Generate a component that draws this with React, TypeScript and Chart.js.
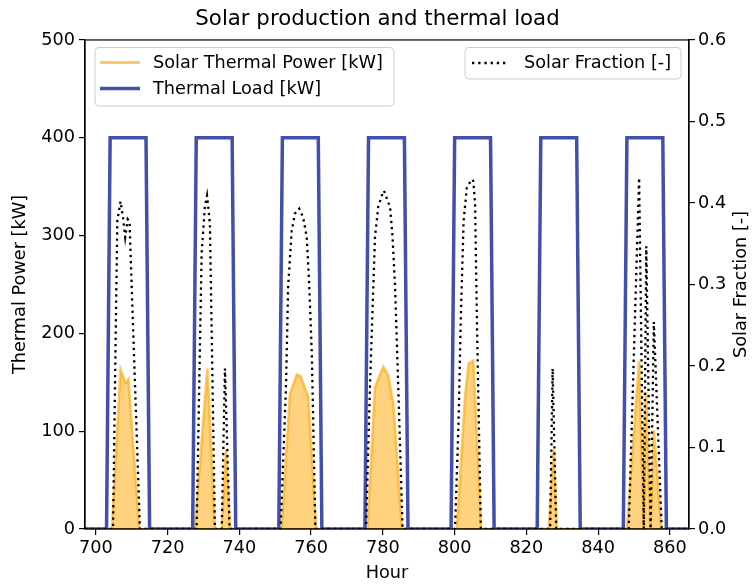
import React, { useEffect, useRef } from 'react';
import { Chart, registerables } from 'chart.js';

Chart.register(...registerables);

// ---- Data ----
const xTicks = [700, 720, 740, 760, 780, 800, 820, 840, 860];
const powerTicks = [0, 100, 200, 300, 400, 500];
const fractionTicks = [0, 0.1, 0.2, 0.3, 0.4, 0.5, 0.6];

const loadHours = [697, 703, 704, 714, 715, 727, 728, 738, 739, 751, 752, 762, 763, 775, 776, 786, 787, 799, 800, 810, 811, 823, 824, 834, 835, 847, 848, 858, 859, 865.3];
const loadKW = [0, 0, 400, 400, 0, 0, 400, 400, 0, 0, 400, 400, 0, 0, 400, 400, 0, 0, 400, 400, 0, 0, 400, 400, 0, 0, 400, 400, 0, 0];

const solarHours = [697, 704.5, 706.9, 708.3, 709.1, 712.1, 727.6, 731.1, 733.2, 735.1, 736.3, 737.4, 751.8, 754.1, 756, 757.1, 759.2, 761.4, 775.7, 777.8, 780.1, 781.5, 782.9, 785.3, 800.6, 802.9, 803.9, 805.2, 807.4, 826.2, 827.6, 828.5, 848, 851.4, 852.7, 853.3, 854.6, 855.5, 857.6, 865.3];
const solarKW = [0, 0, 163, 149, 153, 0, 0, 164, 0, 0, 81, 0, 0, 138, 158, 156, 135, 0, 0, 145, 166, 157, 128, 0, 0, 135, 169, 172, 0, 0, 81, 0, 0, 172, 0, 140, 0, 101, 0, 0];

const fractionHours = [697, 704.8, 706.0, 706.9, 707.6, 708.2, 708.9, 709.4, 712.3, 728.1, 729.5, 730.4, 731.0, 731.8, 733.2, 735.1, 736.0, 737.3, 751.5, 753.0, 753.6, 754.6, 755.5, 756.7, 757.8, 758.8, 759.5, 760.2, 761.2, 775.3, 776.4, 777.8, 778.7, 779.7, 780.3, 782.0, 782.7, 783.4, 784.0, 785.5, 800.1, 801.1, 801.7, 802.5, 803.4, 804.8, 805.2, 805.7, 806.2, 807.3, 826.6, 827.3, 828.3, 848.5, 851.4, 852.7, 853.4, 854.6, 855.5, 857.7, 865.3];
const fractionValues = [0, 0, 0.378, 0.402, 0.382, 0.358, 0.38, 0.377, 0, 0, 0.338, 0.395, 0.409, 0.375, 0, 0, 0.197, 0, 0, 0.174, 0.297, 0.366, 0.387, 0.393, 0.382, 0.358, 0.297, 0.215, 0, 0, 0.174, 0.358, 0.395, 0.409, 0.415, 0.395, 0.358, 0.297, 0.215, 0, 0, 0.133, 0.256, 0.378, 0.419, 0.429, 0.427, 0.399, 0.256, 0, 0, 0.197, 0, 0, 0.431, 0, 0.347, 0, 0.254, 0, 0];

const FONT = "'DejaVu Sans', 'Noto Sans', sans-serif";
const BASE = 17.7;
const BLUE = 'rgb(66,80,172)';
const ORANGE_LINE = 'rgba(255,165,0,0.6)';
const ORANGE_FILL = 'rgba(255,165,0,0.5)';
const DOT_W = 2.3;
const DOT_DASH = [2.3, 3.9];

function roundRect(ctx: CanvasRenderingContext2D, x: number, y: number, w: number, h: number, r: number) {
  ctx.beginPath();
  ctx.moveTo(x + r, y);
  ctx.lineTo(x + w - r, y);
  ctx.quadraticCurveTo(x + w, y, x + w, y + r);
  ctx.lineTo(x + w, y + h - r);
  ctx.quadraticCurveTo(x + w, y + h, x + w - r, y + h);
  ctx.lineTo(x + r, y + h);
  ctx.quadraticCurveTo(x, y + h, x, y + h - r);
  ctx.lineTo(x, y + r);
  ctx.quadraticCurveTo(x, y, x + r, y);
  ctx.closePath();
}

const framePlugin = {
  id: 'frameAndLegend',
  afterDraw(chart: any) {
    const ctx: CanvasRenderingContext2D = chart.ctx;
    const a = chart.chartArea;
    ctx.save();
    ctx.strokeStyle = '#000';
    ctx.lineWidth = 1.2;
    ctx.strokeRect(a.left, a.top, a.right - a.left, a.bottom - a.top);

    ctx.font = `${BASE}px ${FONT}`;
    ctx.textBaseline = 'middle';
    ctx.textAlign = 'left';

    // right axis title, reading bottom to top
    ctx.save();
    ctx.translate(741, (a.top + a.bottom) / 2);
    ctx.rotate(-Math.PI / 2);
    ctx.textAlign = 'center';
    ctx.fillStyle = '#000';
    ctx.fillText('Solar Fraction [-]', 0, 0);
    ctx.restore();

    // left legend
    roundRect(ctx, 95, 47.5, 299, 58.5, 4);
    ctx.fillStyle = 'rgba(255,255,255,0.8)';
    ctx.fill();
    ctx.strokeStyle = '#cccccc';
    ctx.lineWidth = 1;
    ctx.stroke();

    ctx.lineCap = 'butt';
    ctx.strokeStyle = ORANGE_LINE;
    ctx.lineWidth = 3;
    ctx.beginPath();
    ctx.moveTo(100, 62.5);
    ctx.lineTo(140, 62.5);
    ctx.stroke();
    ctx.fillStyle = '#000';
    ctx.fillText('Solar Thermal Power [kW]', 153, 63);

    ctx.strokeStyle = BLUE;
    ctx.lineWidth = 3.5;
    ctx.beginPath();
    ctx.moveTo(100, 88.5);
    ctx.lineTo(140, 88.5);
    ctx.stroke();
    ctx.fillText('Thermal Load [kW]', 153, 89);

    // right legend
    roundRect(ctx, 465, 47.5, 216, 31.5, 4);
    ctx.fillStyle = 'rgba(255,255,255,0.8)';
    ctx.fill();
    ctx.strokeStyle = '#cccccc';
    ctx.lineWidth = 1;
    ctx.stroke();

    ctx.strokeStyle = '#000';
    ctx.lineWidth = DOT_W;
    ctx.setLineDash(DOT_DASH);
    ctx.beginPath();
    ctx.moveTo(472, 63);
    ctx.lineTo(508, 63);
    ctx.stroke();
    ctx.setLineDash([]);
    ctx.fillStyle = '#000';
    ctx.fillText('Solar Fraction [-]', 524, 63.5);
    ctx.restore();
  },
};

export default function App() {
  const canvasRef = useRef<HTMLCanvasElement | null>(null);

  useEffect(() => {
    document.body.style.margin = '0';
    const canvas = canvasRef.current;
    if (!canvas) return;

    const solarData = solarHours.map((h, i) => ({ x: h, y: solarKW[i] }));
    const loadData = loadHours.map((h, i) => ({ x: h, y: loadKW[i] }));
    const fractionData = fractionHours.map((h, i) => ({ x: h, y: fractionValues[i] }));

    const tickFont = { family: FONT, size: BASE };

    const chart = new Chart(canvas, {
      type: 'line',
      data: {
        datasets: [
          {
            label: 'Solar Fraction [-]',
            data: fractionData,
            yAxisID: 'y1',
            borderColor: '#000',
            borderWidth: DOT_W,
            borderDash: DOT_DASH,
            pointRadius: 0,
            fill: false,
            tension: 0,
            order: 0,
          },
          {
            label: 'Thermal Load [kW]',
            data: loadData,
            yAxisID: 'y',
            borderColor: BLUE,
            borderWidth: 3.5,
            pointRadius: 0,
            fill: false,
            tension: 0,
            order: 1,
          },
          {
            label: 'Solar Thermal Power [kW]',
            data: solarData,
            yAxisID: 'y',
            borderColor: ORANGE_LINE,
            backgroundColor: ORANGE_FILL,
            borderWidth: 2.6,
            pointRadius: 0,
            fill: 'origin',
            tension: 0,
            order: 2,
          },
        ],
      },
      options: {
        animation: false,
        responsive: false,
        layout: { padding: { left: 0, right: 0, top: 0, bottom: 0 } },
        plugins: {
          legend: { display: false },
          tooltip: { enabled: false },
          title: {
            display: true,
            text: 'Solar production and thermal load',
            color: '#000',
            font: { family: FONT, size: 21.3, weight: 'normal' },
            padding: { top: 6.5, bottom: 7.9 },
          },
        },
        scales: {
          x: {
            type: 'linear',
            position: 'bottom',
            min: 697,
            max: 865.3,
            afterBuildTicks: (scale: any) => {
              scale.ticks = xTicks.map((v) => ({ value: v }));
            },
            afterFit: (scale: any) => {
              scale.height = 55;
            },
            ticks: { font: tickFont, color: '#000', padding: 3, maxRotation: 0, autoSkip: false },
            grid: { drawOnChartArea: false, drawTicks: true, tickLength: 6, color: '#000', lineWidth: 1.2 },
            border: { display: true, color: '#000', width: 1.2 },
            title: { display: true, text: 'Hour', color: '#000', font: tickFont, padding: { top: 0, bottom: 0 } },
          },
          y: {
            type: 'linear',
            position: 'left',
            min: 0,
            max: 500,
            afterBuildTicks: (scale: any) => {
              scale.ticks = powerTicks.map((v) => ({ value: v }));
            },
            afterFit: (scale: any) => {
              scale.width = 85;
            },
            ticks: { font: tickFont, color: '#000', padding: 4 },
            grid: { drawOnChartArea: false, drawTicks: true, tickLength: 6, color: '#000', lineWidth: 1.2 },
            border: { display: true, color: '#000', width: 1.2 },
            title: { display: true, text: 'Thermal Power [kW]', color: '#000', font: tickFont, padding: { top: 10, bottom: 0 } },
          },
          y1: {
            type: 'linear',
            position: 'right',
            min: 0,
            max: 0.6,
            afterBuildTicks: (scale: any) => {
              scale.ticks = fractionTicks.map((v) => ({ value: v }));
            },
            afterFit: (scale: any) => {
              scale.width = 66;
            },
            ticks: { font: tickFont, color: '#000', padding: 3, callback: (v: any) => Number(v).toFixed(1) },
            grid: { drawOnChartArea: false, drawTicks: true, tickLength: 6, color: '#000', lineWidth: 1.2 },
            border: { display: true, color: '#000', width: 1.2 },
            title: { display: false },
          },
        },
      },
      plugins: [framePlugin],
    } as any);

    return () => {
      chart.destroy();
    };
  }, []);

  return (
    <div style={{ width: 755, height: 584, position: 'relative', background: '#fff' }}>
      <canvas ref={canvasRef} width={755} height={584} style={{ display: 'block', width: 755, height: 584 }} />
    </div>
  );
}
